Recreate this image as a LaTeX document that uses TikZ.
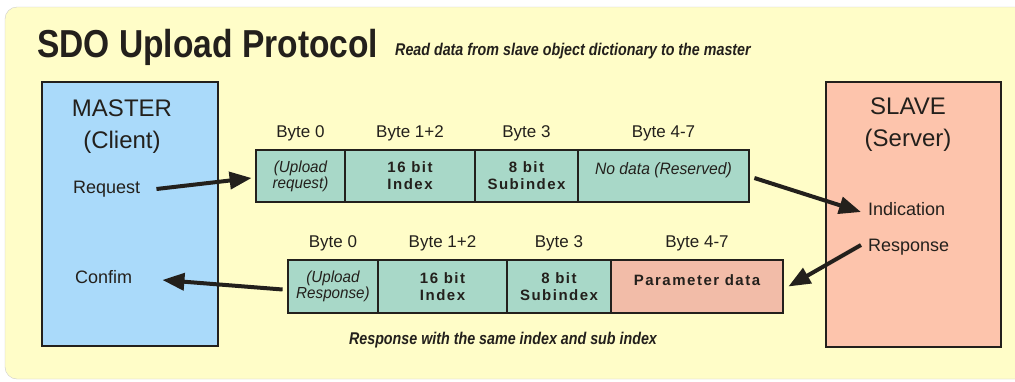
\documentclass[tikz,border=0pt]{standalone}
\usepackage{fontspec}
\setmainfont{Liberation Sans}
\newfontfamily\condbold[FakeStretch=0.86]{Liberation Sans Bold}
\newfontfamily\condbi[FakeStretch=0.84]{Liberation Sans Bold Italic}
\newfontfamily\condit[FakeStretch=0.95]{Liberation Sans Italic}
\newfontfamily\spacebold[LetterSpace=10]{Liberation Sans Bold}
\usetikzlibrary{arrows.meta,positioning}
\definecolor{paper}{RGB}{255,253,200}
\definecolor{masterblue}{RGB}{170,218,250}
\definecolor{slavepink}{RGB}{253,196,172}
\definecolor{cellgreen}{RGB}{168,216,200}
\definecolor{datapink}{RGB}{242,188,168}
\definecolor{ink}{RGB}{35,32,28}

\begin{document}
\begin{tikzpicture}[x=1pt,y=-1pt,
  host/.style={draw=ink,line width=2.5pt,minimum width=176pt,minimum height=264pt,inner sep=0pt},
  cell/.style={draw=ink,line width=2.8pt,fill=cellgreen,minimum height=52pt,inner sep=0pt,align=center,text=ink},
  byte/.style={font=\fontsize{17}{18}\selectfont,text=ink,inner sep=0pt},
  side/.style={font=\fontsize{18}{20}\selectfont,text=ink,inner sep=0pt,anchor=west},
  big/.style={font=\fontsize{24}{32}\selectfont,text=ink,inner sep=0pt,align=center},
  arr/.style={-{Triangle[length=22pt,width=17pt]},line width=4pt,draw=ink}]
\useasboundingbox (0,0) rectangle (1015,381);
\fill[white] (0,0) rectangle (1015,381);
\draw[gray!40,fill=paper,rounded corners=12pt] (5,7) rectangle (1030,379);

% title
\node[anchor=base west,inner sep=0pt,text=ink,font=\condbold\fontsize{39}{40}\selectfont] (title) at (37,57) {SDO Upload Protocol};
\node[anchor=base west,inner sep=0pt,text=ink,font=\condbi\fontsize{17}{18}\selectfont] (sub) at (395,55) {Read data from slave object dictionary to the master};

% master and slave
\node[host,fill=masterblue] (master) at (130,214) {};
\node[host,fill=slavepink,minimum width=175pt,minimum height=265pt] (slave) at (913.5,214.5) {};
\node[big] (mname) at (122,127) {MASTER\\(Client)};
\node[big] (sname) at (908,125) {SLAVE\\(Server)};
\node[side] (req) at (73,189) {Request};
\node[side] (conf) at (75,277) {Confim};
\node[side] (ind) at (868,209) {Indication};
\node[side] (resp) at (868,247) {Response};

% request frame
\node[cell,minimum width=89pt,font=\condit\fontsize{16}{16}\selectfont] (q0) at (300.5,176) {(Upload\\request)};
\node[cell,minimum width=130pt,font=\spacebold\fontsize{15}{17}\selectfont] (q1) at (410,176) {16 bit\\Index};
\node[cell,minimum width=103pt,font=\spacebold\fontsize{15}{17}\selectfont] (q3) at (526.5,176) {8 bit\\Subindex};
\node[cell,minimum width=171pt,font=\condit\fontsize{16.5}{16}\selectfont,text height=20pt,text depth=24pt] (q4) at (663.5,176) {No data (Reserved)};
\node[byte,above=7pt of q0] {Byte 0};
\node[byte,above=7pt of q1] {Byte 1+2};
\node[byte,above=7pt of q3] {Byte 3};
\node[byte,above=7pt of q4] {Byte 4-7};

% response frame
\node[cell,minimum width=90pt,minimum height=53pt,font=\condit\fontsize{16}{16}\selectfont] (r0) at (333,286.5) {(Upload\\Response)};
\node[cell,minimum width=129pt,minimum height=53pt,font=\spacebold\fontsize{15}{17}\selectfont] (r1) at (442.5,286.5) {16 bit\\Index};
\node[cell,minimum width=104pt,minimum height=53pt,font=\spacebold\fontsize{15}{17}\selectfont] (r3) at (559,286.5) {8 bit\\Subindex};
\node[cell,fill=datapink,minimum width=172pt,minimum height=53pt,font=\spacebold\fontsize{15}{17}\selectfont,text height=15pt,text depth=17pt] (r4) at (697,286.5) {Parameter data};
\node[byte,above=7pt of r0] {Byte 0};
\node[byte,above=7pt of r1] {Byte 1+2};
\node[byte,above=7pt of r3] {Byte 3};
\node[byte,above=7pt of r4] {Byte 4-7};

\node[inner sep=0pt,text=ink,font=\condbi\fontsize{17}{18}\selectfont] (note) at (503,340) {Response with the same index and sub index};

% arrows
\draw[arr] ([xshift=16pt]req.east) -- ([xshift=-3pt,yshift=-2pt]q0.west);
\draw[arr] ([xshift=4pt,yshift=-2pt]q4.east) -- ([xshift=-7pt,yshift=-3pt]ind.west);
\draw[arr] ([xshift=-7pt,yshift=2pt]resp.west) -- ([xshift=4pt]r4.east);
\draw[arr] ([xshift=-4pt,yshift=-3pt]r0.west) -- ([xshift=30pt,yshift=-3pt]conf.east);
\end{tikzpicture}
\end{document}
